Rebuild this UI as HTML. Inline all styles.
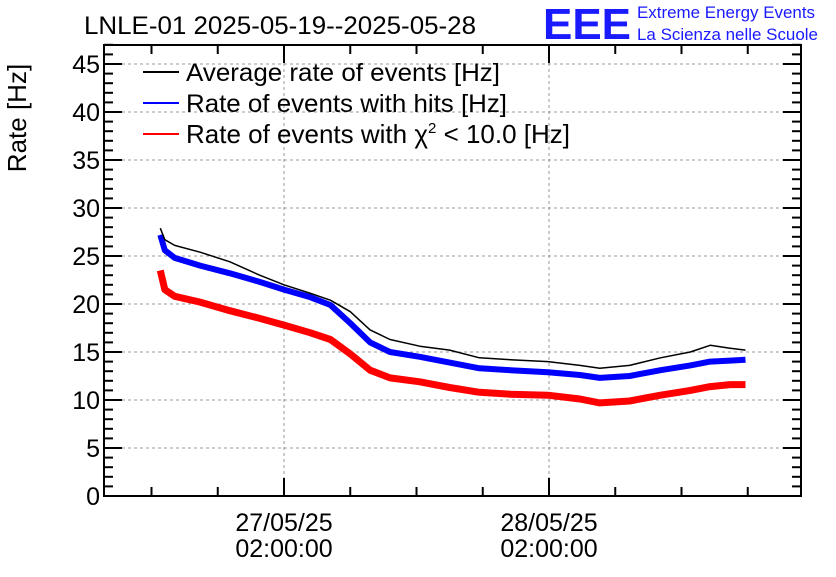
<!DOCTYPE html>
<html><head><meta charset="utf-8"><style>
body{margin:0;background:#fff}
svg{font-family:"Liberation Sans",Arial,sans-serif}
</style></head><body>
<svg id="c" width="836" height="572" viewBox="0 0 836 572">
<rect width="836" height="572" fill="#fff"/>
<text x="84" y="34" font-size="25" textLength="392" lengthAdjust="spacingAndGlyphs">LNLE-01 2025-05-19--2025-05-28</text>
<text x="543" y="39" font-size="44" font-weight="bold" fill="#1a1aff" textLength="88" lengthAdjust="spacingAndGlyphs">EEE</text>
<text x="637" y="18" font-size="17" fill="#1a1aff" textLength="178" lengthAdjust="spacingAndGlyphs">Extreme Energy Events</text>
<text x="637" y="40" font-size="17" fill="#1a1aff" textLength="181" lengthAdjust="spacingAndGlyphs">La Scienza nelle Scuole</text>
<text transform="translate(26,118) rotate(-90)" font-size="26" text-anchor="middle">Rate [Hz]</text>
<g id="grid"></g>
<g id="series"></g>
<g id="axes"></g>
<g>
<line x1="143" y1="72" x2="179" y2="72" stroke="#000" stroke-width="2"/>
<text x="186" y="81" font-size="25" textLength="314" lengthAdjust="spacingAndGlyphs">Average rate of events [Hz]</text>
<line x1="143" y1="103" x2="179" y2="103" stroke="#00f" stroke-width="2"/>
<text x="186" y="112" font-size="25" textLength="321" lengthAdjust="spacingAndGlyphs">Rate of events with hits [Hz]</text>
<line x1="143" y1="134" x2="179" y2="134" stroke="#f00" stroke-width="2"/>
<text x="186" y="143" font-size="26">Rate of events with χ<tspan font-size="15" dy="-10">2</tspan><tspan dy="10"> &lt; 10.0 [Hz]</tspan></text>
</g>
</svg>
<script>
// hours relative to 27/05/25 02:00:00
const times=[-11.2,-10.8,-9.9,-7.6,-4.9,-2.2,0,2.4,4.2,6.0,7.8,9.6,12.3,15.0,17.7,20.5,23.9,26.8,28.6,31.3,34.1,36.8,38.6,40.4,41.8];
const avgRate=[27.9,26.7,26.1,25.4,24.4,23.0,22.0,21.1,20.4,19.2,17.3,16.3,15.6,15.2,14.4,14.2,14.0,13.6,13.3,13.6,14.4,15.0,15.7,15.4,15.2];
const hitsRate=[27.2,25.6,24.8,24.0,23.2,22.3,21.5,20.7,19.9,18.0,16.0,15.0,14.5,13.9,13.3,13.1,12.9,12.6,12.3,12.5,13.1,13.6,14.0,14.1,14.2];
const chi2Rate=[23.5,21.5,20.8,20.2,19.3,18.5,17.8,17.0,16.3,14.8,13.1,12.3,11.9,11.3,10.8,10.6,10.5,10.1,9.7,9.9,10.5,11.0,11.4,11.6,11.6];
const yTicks=[0,5,10,15,20,25,30,35,40,45];
const xMajor=[0,24];
const xLabels=[["27/05/25","02:00:00"],["28/05/25","02:00:00"]];
const L=104,R=801,T=45,B=496;
const X=t=>284+t*265/24;
const Y=v=>B-v*9.6;
const NS="http://www.w3.org/2000/svg";
function mk(tag,attrs,parent){const e=document.createElementNS(NS,tag);for(const k in attrs)e.setAttribute(k,attrs[k]);document.getElementById(parent).appendChild(e);return e;}
yTicks.forEach(v=>{if(v===0)return;
 const g=mk('line',{x1:L,x2:R,y1:Y(v),y2:Y(v),stroke:'#999','stroke-dasharray':'3,3'},'grid');
 
 });
xMajor.forEach(t=>{
 const g=mk('line',{x1:X(t),x2:X(t),y1:T,y2:B,stroke:'#999','stroke-dasharray':'3,3'},'grid');
 
 });
function draw(vals,color,w,name){
 const d=vals.map((v,i)=>(i?'L':'M')+X(times[i]).toFixed(1)+','+Y(v).toFixed(1)).join('');
 const p=mk('path',{d:d,fill:'none',stroke:color,'stroke-width':w,'stroke-linejoin':'round'},'series');
 
 }
draw(chi2Rate,'#f00',7,'series-chi2-rate');
draw(hitsRate,'#00f',6,'series-hits-rate');
draw(avgRate,'#000',1.5,'series-average-rate');
const fr=mk('rect',{x:L,y:T,width:R-L,height:B-T,fill:'none',stroke:'#000','stroke-width':2},'axes');


for(let v=0;v<=47;v++){const len=(v%5===0)?18:9;
 mk('line',{x1:L,x2:L+len,y1:Y(v),y2:Y(v),stroke:'#000','stroke-width':2},'axes');
 mk('line',{x1:R-len,x2:R,y1:Y(v),y2:Y(v),stroke:'#000','stroke-width':2},'axes');}
yTicks.forEach(v=>{const t=mk('text',{x:L-4,y:Y(v)+9,'font-size':25,'text-anchor':'end'},'axes');t.textContent=v;
 
 });
for(let h=-18;h<=42;h+=6){const x=X(h);if(x<L||x>R)continue;const len=(h%24===0)?18:9;
 mk('line',{x1:x,x2:x,y1:B-len,y2:B,stroke:'#000','stroke-width':2},'axes');
 mk('line',{x1:x,x2:x,y1:T,y2:T+len,stroke:'#000','stroke-width':2},'axes');}
xMajor.forEach((t,i)=>{[0,1].forEach(j=>{const e=mk('text',{x:X(t),y:531+j*26,'font-size':25,'text-anchor':'middle'},'axes');e.textContent=xLabels[i][j];
 
 });});
</script>
</body></html>
